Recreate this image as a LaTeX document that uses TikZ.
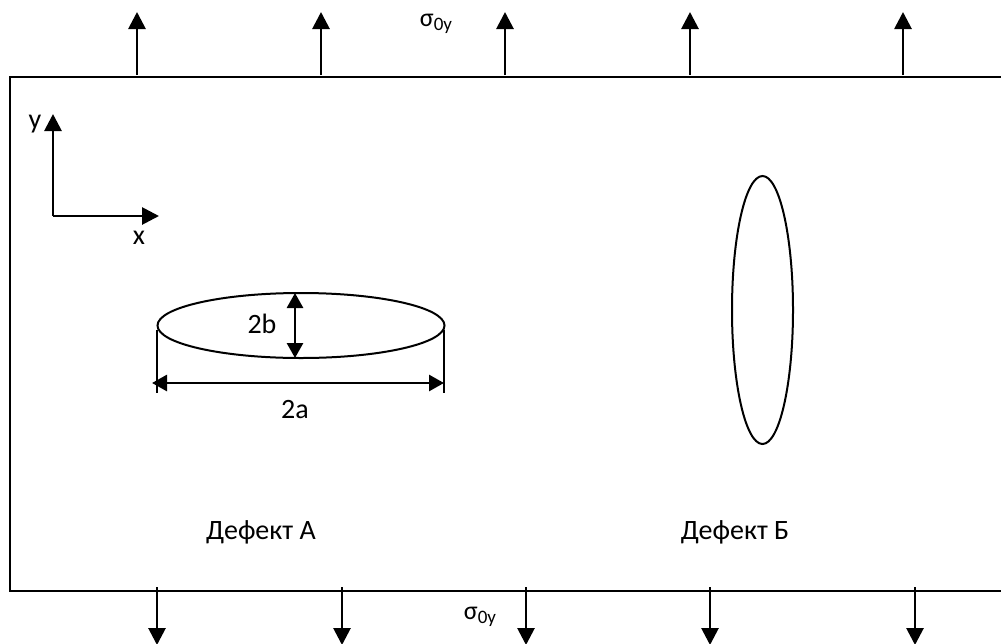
\documentclass[tikz,border=0pt]{standalone}
\usepackage{fontspec}
\setmainfont{Carlito}
\usetikzlibrary{arrows.meta}
\begin{document}
\begin{tikzpicture}[x=1pt,y=-1pt,
  load/.style={line width=2.8pt,-{Triangle[length=17pt,width=17pt]}},
  dimarrow/.style={line width=2.8pt,{Triangle[length=15pt,width=16pt]}-{Triangle[length=15pt,width=16pt]}},
  extline/.style={line width=1.8pt},
  plate/.style={line width=2.6pt},
  crack/.style={line width=2pt},
  lbl/.style={inner sep=0pt,font=\fontsize{28}{32}\selectfont},
  sig/.style={inner sep=0pt,font=\fontsize{26}{30}\selectfont}]
\useasboundingbox (0,0) rectangle (1001,643);
\clip (0,0) rectangle (1001,643);
% plate
\draw[plate] (1020,77) -- (10,77) -- (10,591) -- (1020,591);
% top loads
\foreach \n/\x in {t1/137,t2/321,t3/505,t4/690,t5/903}{
  \coordinate (\n s) at (\x,75);
  \coordinate (\n e) at (\x,12);
  \draw[load] (\n s) -- (\n e);
}
% bottom loads
\foreach \n/\x in {b1/157,b2/342,b3/526,b4/710,b5/915}{
  \coordinate (\n s) at (\x,587);
  \coordinate (\n e) at (\x,645);
  \draw[load] (\n s) -- (\n e);
}
\node[sig] (sigtop) at (436,24) {σ\raisebox{-0.35ex}{\fontsize{19}{21}\selectfont 0y}};
\node[sig] (sigbot) at (480,617) {σ\raisebox{-0.35ex}{\fontsize{19}{21}\selectfont 0y}};
% axes
\coordinate (O) at (53,216);
\coordinate (ytip) at (53,114);
\coordinate (xtip) at (159,216);
\draw[load] (O) -- (ytip);
\draw[load] (O) -- (xtip);
\node[lbl] (ylab) at (35,124) {y};
\node[lbl] (xlab) at (139,238) {x};
% defect A
\draw[crack] (301,325.5) ellipse [x radius=143.5, y radius=32.5];
\coordinate (bt) at (295,293);
\coordinate (bb) at (295,358);
\draw[dimarrow] (bt) -- (bb);
\node[lbl] (lb) at (262,324) {2b};
\coordinate (el1) at (157,330);
\coordinate (el2) at (157,393);
\coordinate (er1) at (444,330);
\coordinate (er2) at (444,393);
\draw[extline] (el1) -- (el2);
\draw[extline] (er1) -- (er2);
\coordinate (al) at (152,383);
\coordinate (ar) at (444,383);
\draw[dimarrow] (al) -- (ar);
\node[lbl] (la) at (295,410) {2a};
% defect B
\draw[crack] (762.5,310) ellipse [x radius=30.5, y radius=134];
% labels
\node[lbl] (defA) at (261,532) {Дефект А};
\node[lbl] (defB) at (735,532) {Дефект Б};
\end{tikzpicture}
\end{document}
